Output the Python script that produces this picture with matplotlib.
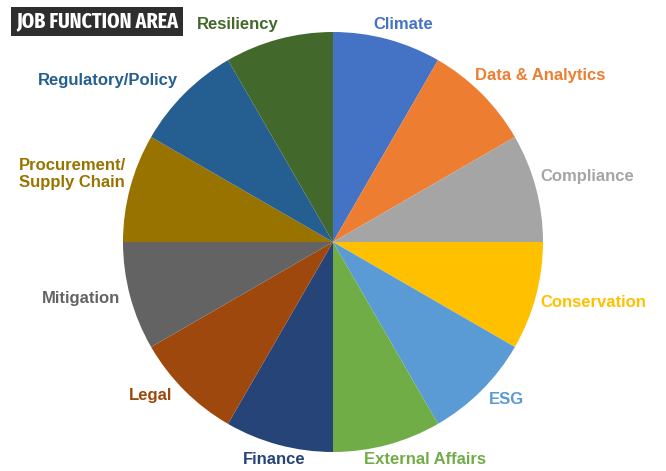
import matplotlib
matplotlib.use("Agg")
import matplotlib.pyplot as plt
from matplotlib import font_manager

# ---- data ----
categories = ["Climate", "Data & Analytics", "Compliance", "Conservation", "ESG",
              "External Affairs", "Finance", "Legal", "Mitigation",
              "Procurement/\nSupply Chain", "Regulatory/Policy", "Resiliency"]
values = [1, 1, 1, 1, 1, 1, 1, 1, 1, 1, 1, 1]
title = "JOB FUNCTION AREA"

# ---- styles / layout ----
colors = ["#4472C4", "#ED7D31", "#A5A5A5", "#FFC000", "#5B9BD5", "#70AD47",
          "#264478", "#9E480E", "#636363", "#997300", "#255E91", "#43682B"]
# label centre positions in pie radius units
label_pos = [(0.333, 1.038), (0.986, 0.795), (1.212, 0.310), (1.238, -0.290),
             (0.824, -0.752), (0.438, -1.038), (-0.281, -1.038), (-0.871, -0.729),
             (-1.200, -0.267), (-1.240, 0.324), (-1.071, 0.767), (-0.452, 1.038)]

W, H = 666, 471
fig = plt.figure(figsize=(W / 100, H / 100), dpi=100)
fig.patch.set_facecolor("white")

cx, cy, r = 333, 242, 210
ax = fig.add_axes([(cx - r) / W, (H - cy - r) / H, 2 * r / W, 2 * r / H])
ax.pie(values, colors=colors, startangle=90, counterclock=False,
       wedgeprops=dict(linewidth=0))
ax.set_xlim(-1, 1)
ax.set_ylim(-1, 1)
ax.set_aspect("auto")
ax.axis("off")

for lab, col, (x, y) in zip(categories, colors, label_pos):
    ax.text(x, y, lab, color=col, fontsize=12, fontweight="bold",
            family=["Liberation Sans", "DejaVu Sans"], ha="center", va="center",
            multialignment="left", linespacing=1.2, clip_on=False)

# find the narrowest bold condensed font available
def rank(name):
    n = name.lower().replace("-", "").replace("_", "").replace(" ", "")
    if "italic" in n or "oblique" in n or "bold" not in n:
        return None
    if "extrabold" in n or "semibold" in n:
        pass
    if "ultracondensed" in n or "extracondensed" in n:
        return 0
    if "semicondensed" in n:
        return 2
    if "condensed" in n or "narrow" in n:
        return 1
    return None

cands = []
for f in font_manager.findSystemFonts():
    rk = rank(f.split("/")[-1])
    if rk is not None:
        cands.append((rk, f))
cands.sort()
cond_file = cands[0][1] if cands else None

# title box
x0, y0, x1, y1 = 11, 7, 183, 36
fig.patches.append(plt.Rectangle((x0 / W, 1 - y1 / H), (x1 - x0) / W, (y1 - y0) / H,
                                 transform=fig.transFigure, facecolor="#2E2E2E",
                                 edgecolor="none"))
if cond_file:
    fp = font_manager.FontProperties(fname=cond_file, size=18)
else:
    fp = font_manager.FontProperties(family="DejaVu Sans", weight="bold", size=11.5)
t = fig.text(97 / W, 1 - 21.5 / H, title, color="white", fontproperties=fp,
             ha="center", va="center")

# shrink title to fit box width
fig.canvas.draw()
bb = t.get_window_extent()
target = 162
if bb.width > target:
    fp.set_size(fp.get_size() * target / bb.width)
    t.set_fontproperties(fp)

fig.savefig("out.png", dpi=100, facecolor="white")
